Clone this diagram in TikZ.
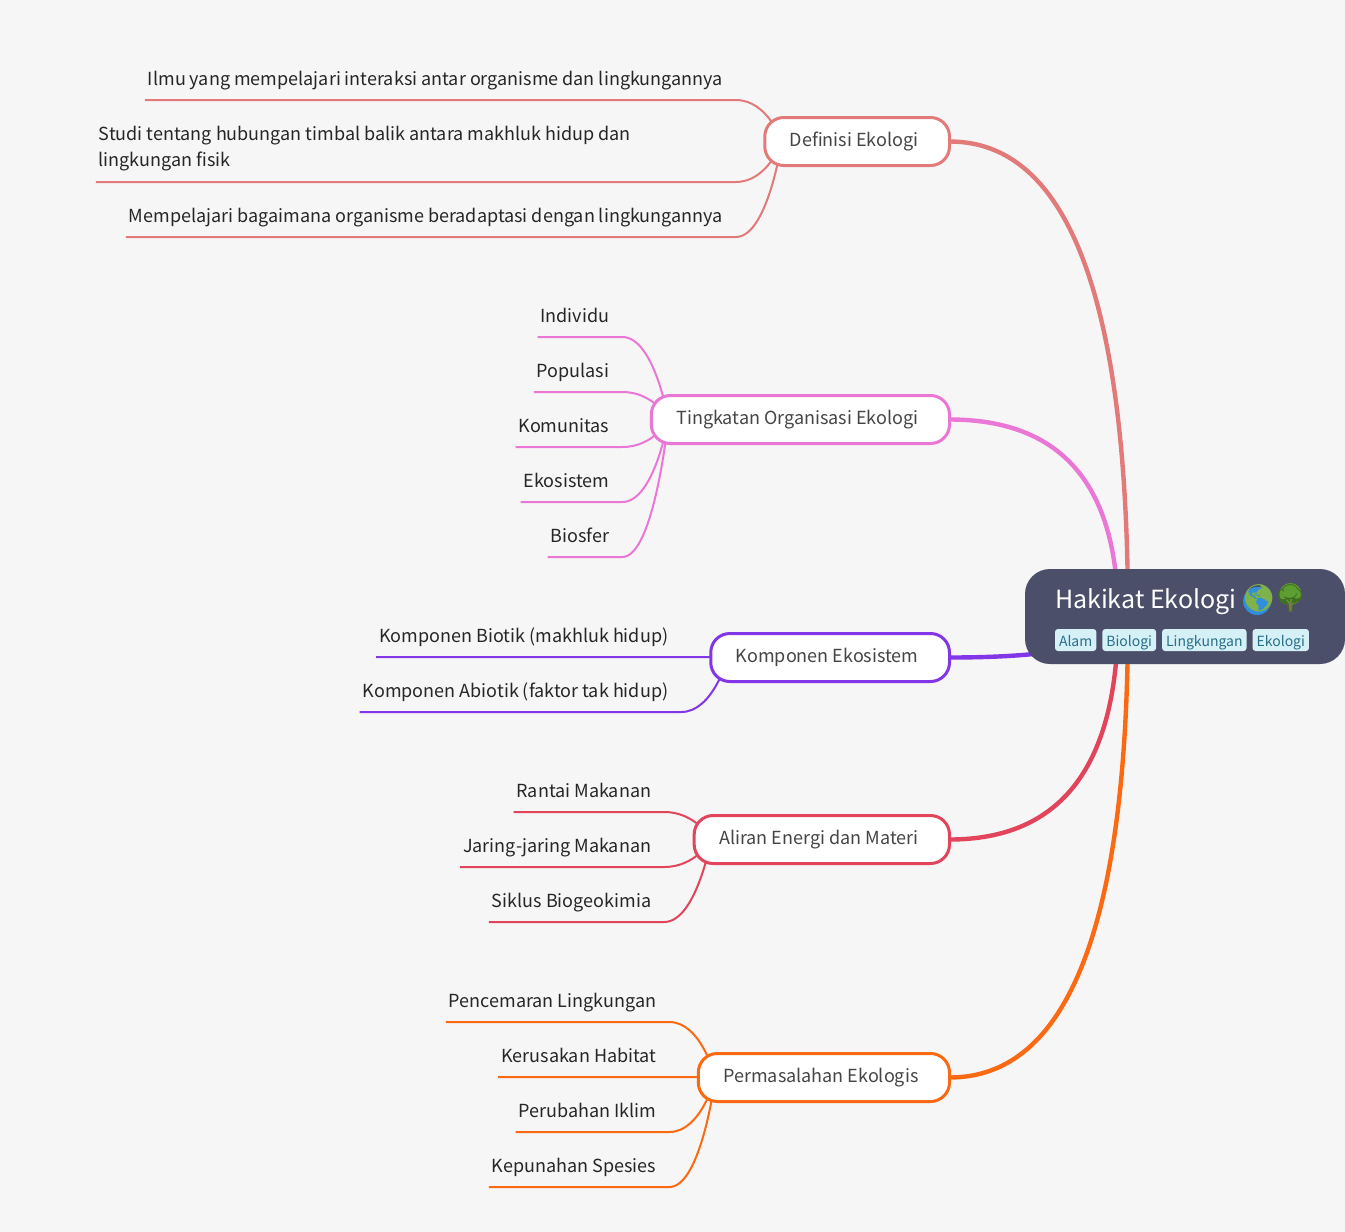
\documentclass[tikz,border=0pt]{standalone}
\usepackage{fontspec}
\setmainfont{Noto Sans CJK SC}
\newfontfamily\emojifont{Noto Emoji}
\usetikzlibrary{positioning,calc,backgrounds}

\definecolor{paper}{HTML}{F6F6F6}
\definecolor{rootfill}{HTML}{4C4F69}
\definecolor{tagfill}{HTML}{D6F0F8}
\definecolor{tagtext}{HTML}{276F86}
\definecolor{defhue}{HTML}{E27A7A}
\definecolor{orghue}{HTML}{EA76D6}
\definecolor{ekohue}{HTML}{8335E8}
\definecolor{energyhue}{HTML}{E2445C}
\definecolor{issuehue}{HTML}{FB6A13}
\definecolor{globehue}{HTML}{2F8FDC}
\definecolor{landhue}{HTML}{7FB24A}
\definecolor{treehue}{HTML}{5C9E31}
\definecolor{barkhue}{HTML}{8D6E55}

\tikzset{
	rootbox/.style = {fill = rootfill, rounded corners = 25pt, minimum width = 320pt, minimum height = 95pt, inner sep = 0pt, outer sep = 0pt},
	roottitle/.style = {text = white, inner sep = 0pt, outer sep = 0pt, text depth = 0pt, font = \fontsize{25}{30}\selectfont},
	emoji/.style = {text = #1, inner sep = 0pt, outer sep = 0pt, font = \fontsize{27}{30}\selectfont\emojifont},
	tag/.style = {fill = tagfill, text = tagtext, rounded corners = 3pt, inner xsep = 4pt, inner ysep = 0pt, outer sep = 0pt, text height = 15pt, text depth = 3pt, minimum height = 22pt, font = \fontsize{14}{18}\selectfont},
	branch/.style = {draw = #1, fill = white, text = black!73, line width = 3pt, rounded corners = 19pt, minimum height = 48pt, inner xsep = 25pt, inner ysep = 0pt, outer sep = 0pt, execute at end node = {\kern6pt}, font = \fontsize{18}{26}\selectfont},
	leaf/.style = {text = black!85, inner xsep = 3pt, inner ysep = 9pt, outer sep = 0pt, text height = 15pt, text depth = 6pt, font = \fontsize{18}{26}\selectfont},
	trunk/.style = {draw = #1, line width = 4.4pt},
	twig/.style = {draw = #1, line width = 2pt},
}

\begin{document}
\begin{tikzpicture}[x = 1pt, y = -1pt]
	\useasboundingbox (0,0) rectangle (1345,1232);
	
	\node [rootbox] (root) at (1185,616.5) {};
	\node [roottitle, above right = -39pt and 30pt of root.north west] (title) {Hakikat Ekologi};
	\fill [globehue] ($(title.base east)+(20.5,-7)$) circle (14pt);
	\node [emoji = landhue, right = 5pt of title.east] (globe) {\char"1F30E};
	\fill [treehue] ($(globe.east)+(14.5,-4)$) circle (11pt);
	\fill [barkhue] ($(globe.east)+(13,4)$) rectangle ++(3,10);
	\node [emoji = treehue!70!black, right = -3pt of globe] (tree) {\char"1F333};
	\node [tag, below right = 60pt and 30pt of root.north west] (alam) {Alam};
	\node [tag, right = 6pt of alam] (biologi) {Biologi};
	\node [tag, right = 6pt of biologi] (lingkungan) {Lingkungan};
	\node [tag, right = 6pt of lingkungan] (ekologi) {Ekologi};
	
	\node [branch = defhue, left = 75.5pt of root.west, yshift = 475pt] (def) {Definisi Ekologi};
	\node [branch = orghue, left = 75.5pt of root.west, yshift = 197pt] (org) {Tingkatan Organisasi Ekologi};
	\node [branch = ekohue, left = 75.5pt of root.west, yshift = -41pt] (eko) {Komponen Ekosistem};
	\node [branch = energyhue, left = 75.5pt of root.west, yshift = -223pt] (energy) {Aliran Energi dan Materi};
	\node [branch = issuehue, left = 75.5pt of root.west, yshift = -461pt] (issue) {Permasalahan Ekologis};
	
	\node [leaf, above left = 41.5pt and 39pt of def.west] (defa) {Ilmu yang mempelajari interaksi antar organisme dan lingkungannya};
	\node [leaf, above left = -40.5pt and 39pt of def.west, text width = 624pt, text height = {}, text depth = {}, align = flush left, inner ysep = 11pt] (defb) {Studi tentang hubungan timbal balik antara makhluk hidup dan\\lingkungan fisik};
	\node [leaf, above left = -95.5pt and 39pt of def.west] (defc) {Mempelajari bagaimana organisme beradaptasi dengan lingkungannya};
	
	\node [leaf, above left = 82.5pt and 39pt of org.west] (orga) {Individu};
	\node [leaf, above left = 27.5pt and 39pt of org.west] (orgb) {Populasi};
	\node [leaf, above left = -27.5pt and 39pt of org.west] (orgc) {Komunitas};
	\node [leaf, above left = -82.5pt and 39pt of org.west] (orgd) {Ekosistem};
	\node [leaf, above left = -137.5pt and 39pt of org.west] (orge) {Biosfer};
	
	\node [leaf, above left = 0.5pt and 39.5pt of eko.west] (ekoa) {Komponen Biotik (makhluk hidup)};
	\node [leaf, above left = -54.5pt and 39.5pt of eko.west] (ekob) {Komponen Abiotik (faktor tak hidup)};
	
	\node [leaf, above left = 27.5pt and 40pt of energy.west] (energya) {Rantai Makanan};
	\node [leaf, above left = -27.5pt and 40pt of energy.west] (energyb) {Jaring-jaring Makanan};
	\node [leaf, above left = -82.5pt and 40pt of energy.west] (energyc) {Siklus Biogeokimia};
	
	\node [leaf, above left = 55.5pt and 39pt of issue.west] (issuea) {Pencemaran Lingkungan};
	\node [leaf, above left = 0.5pt and 39pt of issue.west] (issueb) {Kerusakan Habitat};
	\node [leaf, above left = -54.5pt and 39pt of issue.west] (issuec) {Perubahan Iklim};
	\node [leaf, above left = -109.5pt and 39pt of issue.west] (issued) {Kepunahan Spesies};
	
	\coordinate (hubnear) at ($(root.center)+(-67,0)$);
	\coordinate (hubfar) at ($(root.center)+(-57,0)$);
	
	\begin{scope}[on background layer]
		\fill [paper] (0,0) rectangle (1345,1232);
		\foreach \branch/\hub/\hue in {def/hubfar/defhue, org/hubnear/orghue, eko/hubnear/ekohue, energy/hubnear/energyhue, issue/hubfar/issuehue}
			\draw [trunk = \hue] (\branch.east) .. controls ($(\branch.east)!2/3!(\hub |- \branch.east)$) and ($(\hub)!2/3!(\hub |- \branch.east)$) .. (\hub);
		\foreach \branch/\hue/\leaves in {def/defhue/{defa,defb,defc}, org/orghue/{orga,orgb,orgc,orgd,orge}, eko/ekohue/{ekoa,ekob}, energy/energyhue/{energya,energyb,energyc}, issue/issuehue/{issuea,issueb,issuec,issued}}
			\foreach \leaf in \leaves
				\draw [twig = \hue] (\leaf.south west) -- ($(\leaf.south east)+(10,0)$) .. controls +(32,0) and ($(\branch.west)+(17,0)$) .. ($(\branch.west)+(17,0)$);
	\end{scope}
\end{tikzpicture}
\end{document}
